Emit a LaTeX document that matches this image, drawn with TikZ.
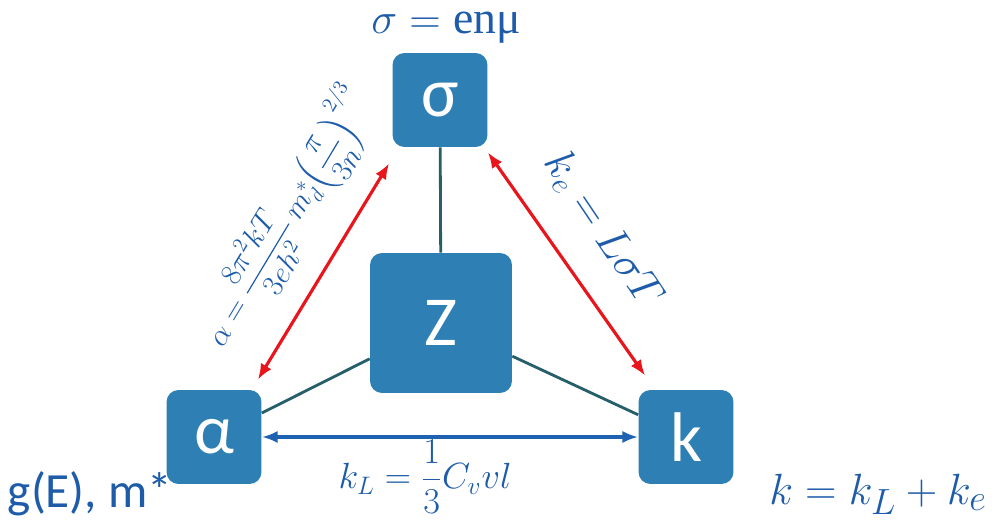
\documentclass[tikz,border=0pt]{standalone}
\usepackage{amsmath}
\usepackage{fontspec}
\setmainfont{Carlito}
\newfontfamily\serifup{Liberation Serif}
\usetikzlibrary{arrows.meta,calc,positioning}

\definecolor{boxblue}{RGB}{46,127,180}
\definecolor{txtblue}{RGB}{30,92,170}
\definecolor{linkteal}{RGB}{38,94,106}
\definecolor{arrred}{RGB}{232,22,28}
\definecolor{arrblue}{RGB}{32,98,178}

\tikzset{
  box/.style={fill=boxblue,rounded corners=0.24cm,text=white,minimum width=1.9cm,minimum height=1.88cm,
    font=\fontsize{40}{40}\selectfont,inner sep=0pt},
  bigbox/.style={box,minimum width=2.84cm,minimum height=2.8cm},
  link/.style={linkteal,line width=1.6pt},
  redarr/.style={arrred,line width=1.8pt,{Latex[length=9pt,width=7pt]}-{Latex[length=9pt,width=7pt]}},
  bluearr/.style={arrblue,line width=1.8pt,{Latex[length=9pt,width=7pt]}-{Latex[length=9pt,width=7pt]}},
  lbl/.style={text=txtblue,inner sep=0pt}
}

\begin{document}
\begin{tikzpicture}[x=0.02cm,y=-0.02cm]
  \useasboundingbox (0,0) rectangle (1001,520);
  % the four property boxes
  \node[box] (sig) at (440,100) {σ};
  \node[bigbox] (Z) at (441,323) {Z};
  \node[box] (alpha) at (214,437) {α};
  \node[box] (k) at (686,437) {k};
  % links to the figure of merit
  \draw[link] (sig) -- (Z);
  \draw[link] (Z) -- (alpha);
  \draw[link] (Z) -- (k);
  % relations between the properties
  \draw[redarr] ($(alpha.north east)+(-4,-10)$) -- ($(sig.south west)+(-3,16)$);
  \draw[redarr] ($(sig.south east)+(0,5)$) -- ($(k.north west)+(7,-14)$);
  \draw[bluearr] (alpha.east) -- (k.west);
  % formulas
  \node[lbl,font=\fontsize{26}{26}\selectfont] (sigeq) at (446,28) {$\sigma = \text{\serifup enμ}$};
  \node[lbl,font=\fontsize{17}{17}\selectfont,rotate=59] (alphaeq) at (287,218)
    {$\alpha = \dfrac{8\pi^2 kT}{3eh^2}\,m_d^{*}\Big(\dfrac{\pi}{3n}\Big)^{2/3}$};
  \node[lbl,font=\fontsize{27}{27}\selectfont,rotate=-56] (keeq) at (603,230) {$k_e = L\sigma T$};
  \node[lbl,font=\fontsize{20}{20}\selectfont] (kleq) at (425,477) {$k_L = \dfrac{1}{3}C_v v l$};
  \node[lbl,font=\fontsize{28}{28}\selectfont] (gE) at (90,494) {g(E), m*};
  \node[lbl,font=\fontsize{29}{29}\selectfont] (ktot) at (878,494) {$k = k_L + k_e$};
\end{tikzpicture}
\end{document}
